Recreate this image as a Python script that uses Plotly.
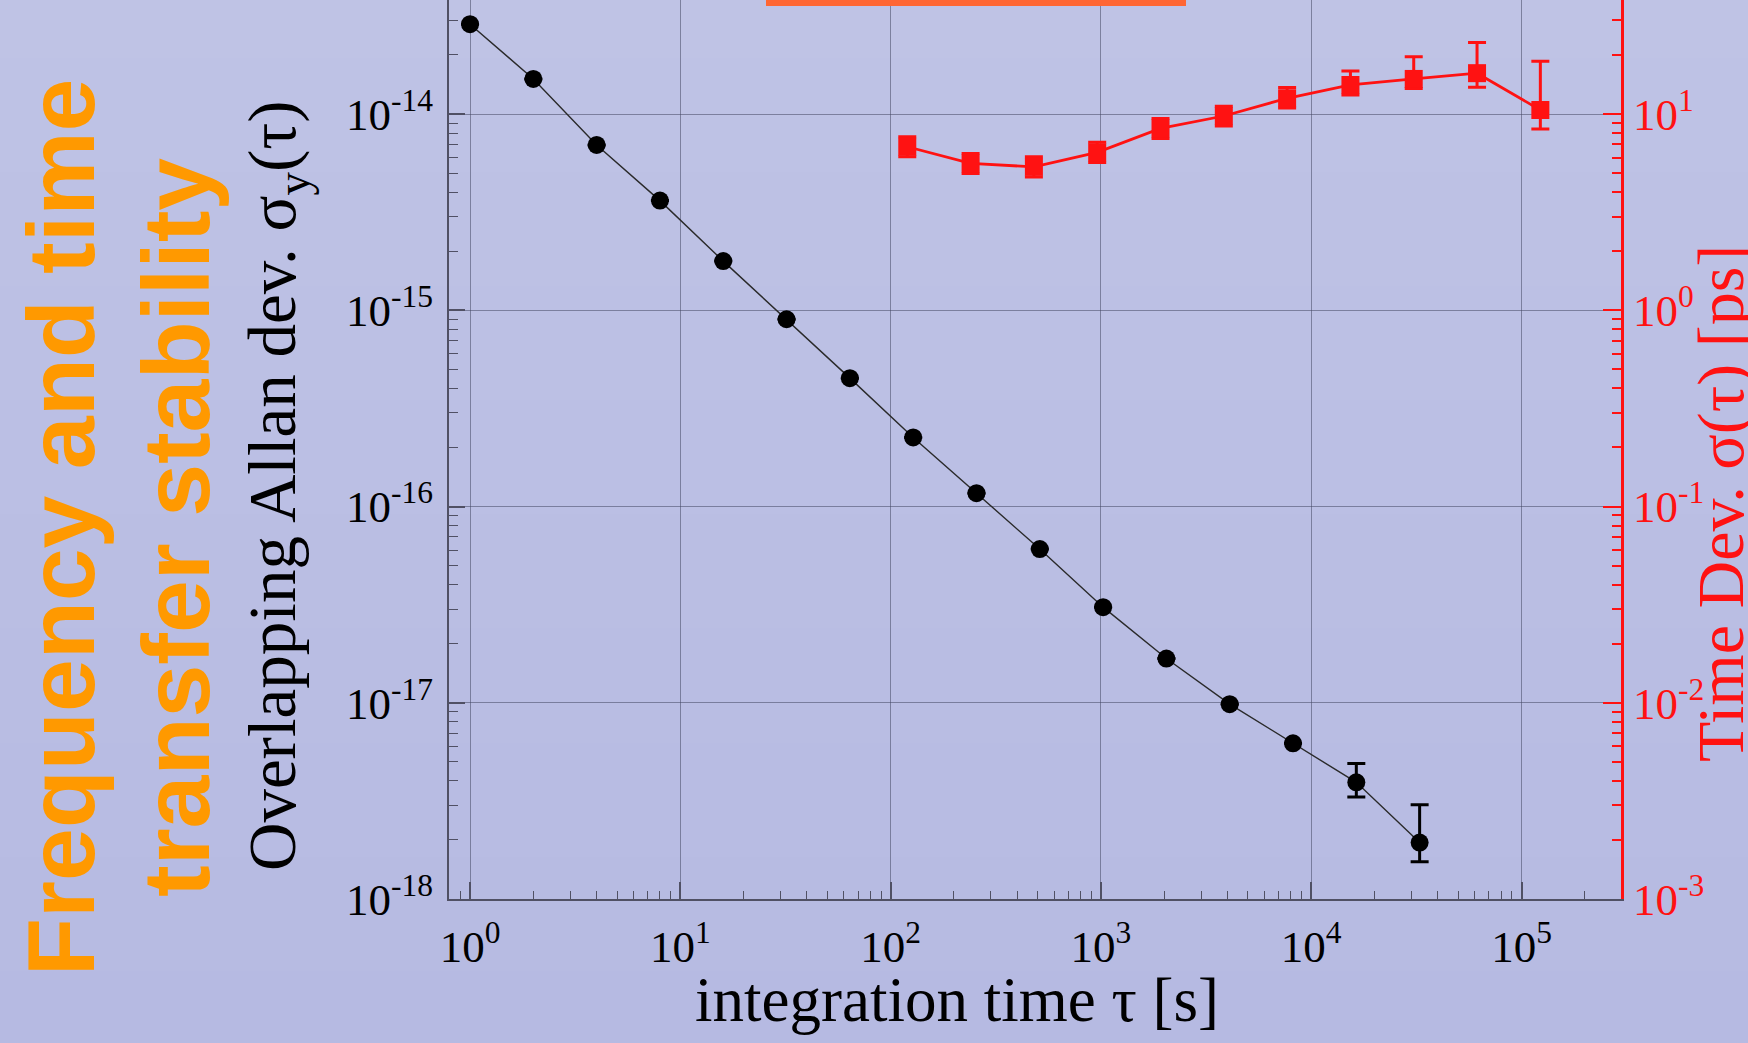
import base64, struct, zlib
import plotly.graph_objects as go

# ---------------- data ----------------
tau_adev = [1, 2, 4, 8, 16, 32, 64, 128, 256, 512, 1024, 2048, 4096, 8192, 16384, 32768]
adev = [2.87e-14, 1.51e-14, 6.96e-15, 3.62e-15, 1.78e-15, 9.0e-16, 4.51e-16, 2.25e-16,
        1.17e-16, 6.07e-17, 3.07e-17, 1.68e-17, 9.84e-18, 6.21e-18, 3.93e-18, 1.94e-18]
adev_err_plus = [0, 0, 0, 0, 0, 0, 0, 0, 0, 0, 0, 0, 0, 0, 0.98e-18, 1.08e-18]
adev_err_minus = [0, 0, 0, 0, 0, 0, 0, 0, 0, 0, 0, 0, 0, 0, 0.62e-18, 0.39e-18]

tau_tdev = [120, 240, 480, 960, 1920, 3840, 7680, 15360, 30720, 61440, 122880]
tdev = [6.81, 5.60, 5.38, 6.38, 8.45, 9.77, 12.03, 14.06, 15.09, 16.15, 10.48]
tdev_err_plus = [0.85, 0.70, 0.67, 0.80, 1.05, 1.20, 1.60, 2.50, 4.50, 7.00, 8.10]
tdev_err_minus = [0.75, 0.62, 0.60, 0.71, 0.94, 1.08, 1.30, 1.56, 1.60, 2.45, 2.10]

x_ticks = [1, 10, 100, 1000, 10000, 100000]
x_ticktext = ["10<sup>0</sup>", "10<sup>1</sup>", "10<sup>2</sup>", "10<sup>3</sup>",
              "10<sup>4</sup>", "10<sup>5</sup>"]
y_ticks = [1e-18, 1e-17, 1e-16, 1e-15, 1e-14]
y_ticktext = ["10<sup>-18</sup>", "10<sup>-17</sup>", "10<sup>-16</sup>",
              "10<sup>-15</sup>", "10<sup>-14</sup>"]
y2_ticks = [1e-3, 1e-2, 1e-1, 1, 10]
y2_ticktext = ["10<sup>-3</sup>", "10<sup>-2</sup>", "10<sup>-1</sup>",
               "10<sup>0</sup>", "10<sup>1</sup>"]

# ---------------- geometry ----------------
W, H = 1748, 1043
L, R, T, B = 449, 127, 0, 144
PW, PH = W - L - R, H - T - B


def px(xp):
    return (xp - L) / PW


def py(yp):
    return (H - B - yp) / PH


def minors(d0, d1):
    return [k * 10.0 ** d for d in range(d0, d1) for k in range(2, 10)]


SERIF = "Liberation Serif"
AXC = "#505064"
GRIDC = "rgba(70,72,100,0.55)"
RED = "#FF1212"
TICKSIZE = 45


# ---------------- background gradient image ----------------
def gradient_png(top, bottom, n=64):
    raw = b""
    for i in range(n):
        t = i / (n - 1)
        c = bytes(int(round(top[j] + (bottom[j] - top[j]) * t)) for j in range(3))
        raw += b"\x00" + c

    def chunk(tag, data):
        return (struct.pack(">I", len(data)) + tag + data +
                struct.pack(">I", zlib.crc32(tag + data) & 0xFFFFFFFF))

    png = b"\x89PNG\r\n\x1a\n"
    png += chunk(b"IHDR", struct.pack(">IIBBBBB", 1, n, 8, 2, 0, 0, 0))
    png += chunk(b"IDAT", zlib.compress(raw))
    png += chunk(b"IEND", b"")
    return "data:image/png;base64," + base64.b64encode(png).decode()


bg_src = gradient_png((191, 195, 229), (182, 186, 226))

fig = go.Figure()

fig.add_trace(go.Scatter(
    x=tau_adev, y=adev, mode="lines+markers",
    line=dict(color="#2a2a2a", width=1.4),
    marker=dict(symbol="circle", size=18, color="black"),
    error_y=dict(type="data", symmetric=False, array=adev_err_plus,
                 arrayminus=adev_err_minus, color="black", thickness=3, width=9),
    showlegend=False, cliponaxis=False,
))

fig.add_trace(go.Scatter(
    x=tau_tdev, y=tdev, mode="lines+markers", yaxis="y2",
    line=dict(color=RED, width=2.8),
    marker=dict(symbol="square", size=18, color=RED),
    error_y=dict(type="data", symmetric=False, array=tdev_err_plus,
                 arrayminus=tdev_err_minus, color=RED, thickness=3, width=9),
    showlegend=False, cliponaxis=False,
))

fig.update_layout(
    width=W, height=H,
    margin=dict(l=L, r=R, t=T, b=B, pad=0),
    paper_bgcolor="#BBBFE3",
    plot_bgcolor="rgba(0,0,0,0)",
    images=[dict(source=bg_src, xref="paper", yref="paper",
                 x=px(0), y=py(0), sizex=W / PW, sizey=H / PH,
                 xanchor="left", yanchor="top", sizing="stretch", layer="below")],
    xaxis=dict(
        type="log", range=[-0.1, 5.473],
        tickmode="array", tickvals=x_ticks, ticktext=x_ticktext,
        ticks="inside", ticklen=17, tickwidth=1.5, tickcolor=AXC,
        showline=True, linecolor=AXC, linewidth=2,
        showgrid=True, gridcolor=GRIDC, gridwidth=1.2, zeroline=False,
        tickfont=dict(family=SERIF, size=TICKSIZE, color="black"),
        ticklabelstandoff=7,
        minor=dict(tickmode="array", tickvals=minors(-1, 6), ticks="inside",
                   ticklen=8, tickwidth=1.3, tickcolor=AXC, showgrid=False),
    ),
    yaxis=dict(
        type="log", range=[-18, -13.419],
        tickmode="array", tickvals=y_ticks, ticktext=y_ticktext,
        ticks="inside", ticklen=16, tickwidth=1.5, tickcolor=AXC,
        showline=True, linecolor=AXC, linewidth=2,
        showgrid=True, gridcolor=GRIDC, gridwidth=1.2, zeroline=False,
        tickfont=dict(family=SERIF, size=TICKSIZE, color="black"),
        ticklabelstandoff=5,
        minor=dict(tickmode="array", tickvals=minors(-18, -13), ticks="inside",
                   ticklen=9, tickwidth=1.3, tickcolor=AXC, showgrid=False),
    ),
    yaxis2=dict(
        type="log", range=[-3, 1.581], overlaying="y", side="right",
        tickmode="array", tickvals=y2_ticks, ticktext=y2_ticktext,
        ticks="inside", ticklen=18, tickwidth=2, tickcolor=RED,
        showline=True, linecolor=RED, linewidth=3,
        showgrid=False, zeroline=False,
        tickfont=dict(family=SERIF, size=TICKSIZE, color=RED),
        ticklabelstandoff=0,
        minor=dict(tickmode="array", tickvals=minors(-3, 2), ticks="inside",
                   ticklen=9, tickwidth=1.8, tickcolor=RED, showgrid=False),
    ),
    shapes=[dict(type="rect", xref="paper", yref="paper",
                 x0=px(766), x1=px(1186), y0=py(6), y1=py(0),
                 fillcolor="#FF6633", line=dict(width=0), layer="above")],
)

ann = []
ann.append(dict(text="Frequency and time", x=px(61), y=py(528), xref="paper", yref="paper",
                textangle=-90, showarrow=False, xanchor="center", yanchor="middle",
                font=dict(family="Liberation Sans", size=95, color="#FF9900", weight="bold")))
ann.append(dict(text="transfer stability", x=px(176), y=py(528), xref="paper", yref="paper",
                textangle=-90, showarrow=False, xanchor="center", yanchor="middle",
                font=dict(family="Liberation Sans", size=95, color="#FF9900", weight="bold")))
ann.append(dict(text="Overlapping Allan dev. σ<sub>y</sub>(τ)", x=px(277), y=py(486),
                xref="paper", yref="paper", textangle=-90, showarrow=False,
                xanchor="center", yanchor="middle",
                font=dict(family=SERIF, size=67, color="black")))
ann.append(dict(text="Time Dev. σ(τ) [ps]", x=px(1721), y=py(504),
                xref="paper", yref="paper", textangle=-90, showarrow=False,
                xanchor="center", yanchor="middle",
                font=dict(family=SERIF, size=66, color=RED)))
ann.append(dict(text="integration time τ [s]", x=px(957), y=py(1000),
                xref="paper", yref="paper", showarrow=False,
                xanchor="center", yanchor="middle",
                font=dict(family=SERIF, size=63, color="black")))
fig.update_layout(annotations=ann)

fig.write_html("out.html")
